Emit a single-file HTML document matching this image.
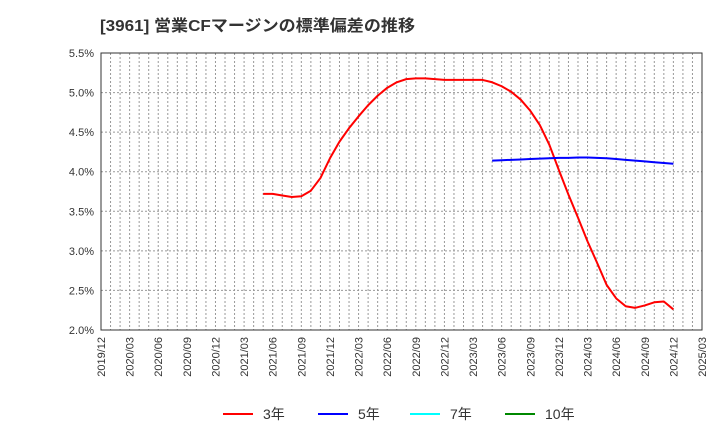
<!DOCTYPE html>
<html><head><meta charset="utf-8"><style>
body{margin:0;background:#fff;font-family:"Liberation Sans","Noto Sans CJK JP",sans-serif;}
</style></head><body>
<svg id="chart" width="720" height="440" xmlns="http://www.w3.org/2000/svg" font-family="Liberation Sans, Noto Sans CJK JP, sans-serif">
<text x="100" y="31" font-size="16" font-weight="bold" fill="#333" textLength="315" lengthAdjust="spacingAndGlyphs">[3961]  営業CFマージンの標準偏差の推移</text>
<g id="grid"></g><g id="axes"></g><g id="series"></g>
<g font-size="14" fill="#333">
<line x1="223" y1="414" x2="253" y2="414" stroke="#f00" stroke-width="2"/><text x="263" y="419">3年</text>
<line x1="318" y1="414" x2="348" y2="414" stroke="#00f" stroke-width="2"/><text x="358" y="419">5年</text>
<line x1="410" y1="414" x2="440" y2="414" stroke="#0ff" stroke-width="2"/><text x="450" y="419">7年</text>
<line x1="505" y1="414" x2="535" y2="414" stroke="#080" stroke-width="2"/><text x="545" y="419">10年</text>
</g>
</svg>
<script>
const yTicks=[2.0,2.5,3.0,3.5,4.0,4.5,5.0,5.5];
const xTickLabels=["2019/12","2020/03","2020/06","2020/09","2020/12","2021/03","2021/06","2021/09","2021/12","2022/03","2022/06","2022/09","2022/12","2023/03","2023/06","2023/09","2023/12","2024/03","2024/06","2024/09","2024/12","2025/03"];
const s3Start=17; // months after 2019/12 (2021/05)
const s3=[3.72,3.72,3.70,3.68,3.69,3.76,3.92,4.17,4.38,4.55,4.70,4.84,4.96,5.06,5.13,5.17,5.18,5.18,5.17,5.16,5.16,5.16,5.16,5.16,5.13,5.08,5.01,4.91,4.77,4.59,4.34,4.02,3.71,3.42,3.12,2.85,2.57,2.40,2.30,2.28,2.31,2.35,2.36,2.26];
const s5Start=41; // 2023/05
const s5=[4.14,4.145,4.15,4.155,4.16,4.165,4.17,4.175,4.175,4.18,4.18,4.175,4.17,4.16,4.15,4.14,4.13,4.12,4.11,4.10];
const L=101,R=702,T=53,B=330,months=63;
const X=m=>L+(R-L)*m/months;
const Y=v=>B-(v-2)*(B-T)/3.5;
const NS="http://www.w3.org/2000/svg";
function mk(tag,attrs,parent){const e=document.createElementNS(NS,tag);for(const k in attrs)e.setAttribute(k,attrs[k]);document.getElementById(parent).appendChild(e);return e;}
for(let m=1;m<months;m++){const l=mk('line',{x1:X(m),x2:X(m),y1:T,y2:B,stroke:'#999','stroke-dasharray':'2,2','stroke-width':1},'grid');

}
yTicks.forEach(v=>{const l=mk('line',{x1:L,x2:R,y1:Y(v),y2:Y(v),stroke:'#999','stroke-dasharray':'2,2','stroke-width':1},'grid');


const t=mk('text',{x:L-7,y:Y(v)+4,'text-anchor':'end','font-size':11,fill:'#333'},'axes');t.textContent=v.toFixed(1)+'%';

});
const fr=mk('rect',{x:L,y:T,width:R-L,height:B-T,fill:'none',stroke:'#333','stroke-width':1},'axes');


xTickLabels.forEach((s,i)=>{const x=X(i*3);const t=mk('text',{transform:`translate(${x+4},337) rotate(-90)`,'text-anchor':'end','font-size':11,fill:'#333'},'axes');t.textContent=s;

});
function line(arr,start,color,name){const p=mk('polyline',{points:arr.map((v,i)=>X(start+i)+','+Y(v)).join(' '),fill:'none',stroke:color,'stroke-width':2,'stroke-linejoin':'round'},'series');

}
line(s3,s3Start,'#f00','series-3y');
line(s5,s5Start,'#00f','series-5y');
</script>
</body></html>
